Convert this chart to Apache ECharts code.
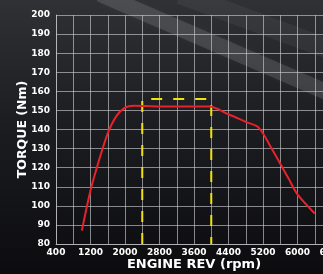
<!DOCTYPE html>
<html>
<head>
<meta charset="utf-8">
<script src="https://cdn.jsdelivr.net/npm/echarts@6/dist/echarts.min.js"></script>
<style>
  html, body { margin: 0; padding: 0; background: #111; }
  #chart { width: 323px; height: 274px; }
</style>
</head>
<body>
<div id="chart"></div>
<script>
  // torque curve (rpm, Nm)
  var rpm    = [1000, 1200, 1400, 1600, 1800, 2000, 2200, 2800, 3600, 3950, 4400, 4800, 5100, 5400, 5800, 6000, 6400]
  var torque = [87,   108,  124,  138,  147,  151.5, 152.5, 152, 152,  152,  148,  144,  141,  130,  114,  106,  96]
  // peak torque band
  var bandRpm    = [2400, 2400, 4000, 4000]
  var bandTorque = [80,   156,  156,  80]

  var curveData = []
  for (var i = 0; i < rpm.length; i++) {
    curveData.push([rpm[i], torque[i]])
  }
  var bandData = []
  for (var j = 0; j < bandRpm.length; j++) {
    bandData.push([bandRpm[j], bandTorque[j]])
  }

  var myChart = echarts.init(document.getElementById('chart'))
  var gridColor = 'rgba(200,200,205,0.65)'
  var font = 'DejaVu Sans'

  var option = {
    animation: false,
    backgroundColor: new echarts.graphic.LinearGradient(0, 0, 0, 1, [
      { offset: 0, color: '#2f3135' },
      { offset: 0.45, color: '#1c1d21' },
      { offset: 1, color: '#0c0c0f' }
    ]),
    graphic: [{
      type: 'line',
      z: -10,
      silent: true,
      shape: { x1: 100, y1: -6, x2: 345, y2: 100 },
      style: {
        stroke: 'rgba(255,255,255,0.12)',
        lineWidth: 16,
        shadowBlur: 12,
        shadowColor: 'rgba(255,255,255,0.25)'
      }
    }, {
      type: 'line',
      z: -10,
      silent: true,
      shape: { x1: 180, y1: -6, x2: 345, y2: 55 },
      style: {
        stroke: 'rgba(255,255,255,0.05)',
        lineWidth: 20,
        shadowBlur: 14,
        shadowColor: 'rgba(255,255,255,0.12)'
      }
    }],
    grid: {
      left: 56,
      top: 15,
      right: -9,
      bottom: 30,
      containLabel: false,
      outerBoundsMode: 'none'
    },
    xAxis: {
      type: 'value',
      min: 400,
      max: 6800,
      interval: 400,
      name: 'ENGINE REV (rpm)',
      nameLocation: 'middle',
      nameGap: 14,
      nameMoveOverlap: false,
      nameTextStyle: {
        color: '#ffffff',
        fontFamily: font,
        fontWeight: 'bold',
        fontSize: 13
      },
      axisLine: { show: true, lineStyle: { color: gridColor } },
      axisTick: { show: false },
      splitLine: { show: true, lineStyle: { color: gridColor, width: 1 } },
      axisLabel: {
        color: '#ffffff',
        fontFamily: font,
        fontWeight: 'bold',
        fontSize: 9,
        margin: 4,
        formatter: function (v) {
          return ((v - 400) % 800 === 0) ? String(v) : ''
        }
      }
    },
    yAxis: {
      type: 'value',
      min: 80,
      max: 200,
      interval: 10,
      name: 'TORQUE (Nm)',
      nameLocation: 'middle',
      nameGap: 27,
      nameMoveOverlap: false,
      nameTextStyle: {
        color: '#ffffff',
        fontFamily: font,
        fontWeight: 'bold',
        fontSize: 12.5
      },
      axisLine: { show: true, lineStyle: { color: gridColor } },
      axisTick: { show: false },
      splitLine: { show: true, lineStyle: { color: gridColor, width: 1 } },
      axisLabel: {
        color: '#ffffff',
        fontFamily: font,
        fontWeight: 'bold',
        fontSize: 9,
        margin: 6
      }
    },
    series: [{
      name: 'band',
      type: 'line',
      showSymbol: false,
      symbol: 'none',
      lineStyle: {
        color: '#f2e20c',
        width: 2,
        type: [11, 11]
      },
      data: bandData
    }, {
      name: 'torque',
      type: 'line',
      smooth: 0.3,
      showSymbol: false,
      symbol: 'none',
      lineStyle: {
        color: '#e8212b',
        width: 2
      },
      data: curveData
    }]
  }

  myChart.setOption(option)
</script>
</body>
</html>
